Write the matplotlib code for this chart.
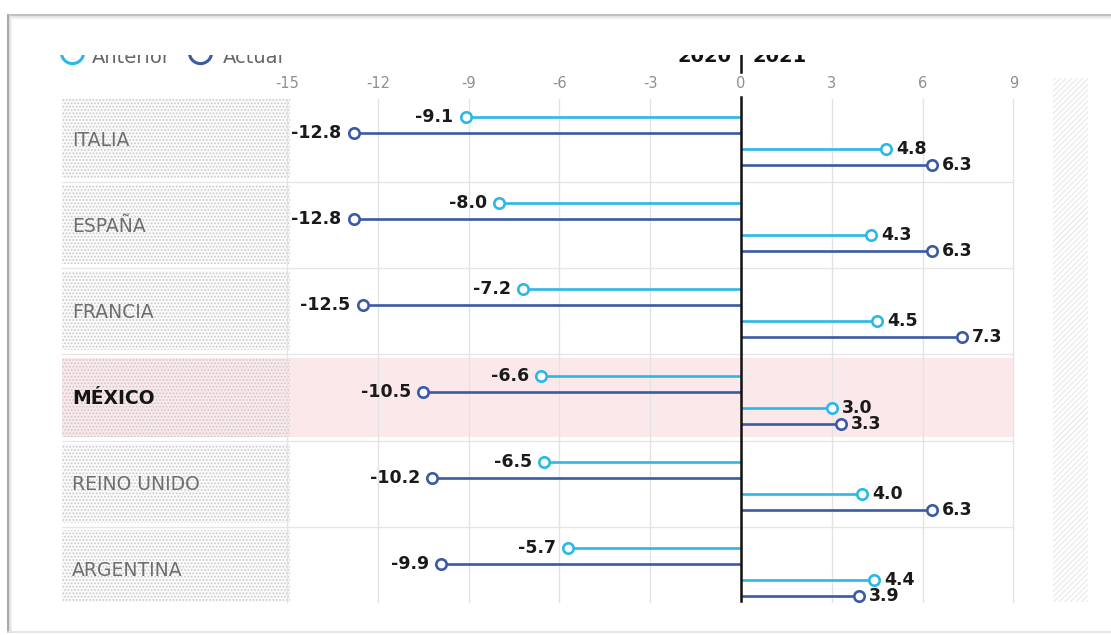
import matplotlib
matplotlib.use('Agg')
import matplotlib.pyplot as plt
from matplotlib.patches import Rectangle

# ---------------- data ----------------
countries = ['ITALIA', 'ESPAÑA', 'FRANCIA', 'MÉXICO', 'REINO UNIDO', 'ARGENTINA']
anterior_2020 = [-9.1, -8.0, -7.2, -6.6, -6.5, -5.7]
actual_2020 = [-12.8, -12.8, -12.5, -10.5, -10.2, -9.9]
anterior_2021 = [4.8, 4.3, 4.5, 3.0, 4.0, 4.4]
actual_2021 = [6.3, 6.3, 7.3, 3.3, 6.3, 3.9]
x_ticks = [-15, -12, -9, -6, -3, 0, 3, 6, 9]
highlight = 'MÉXICO'
legend_labels = ['Anterior', 'Actual']
year_labels = ['2020', '2021']

# ---------------- layout ----------------
W, H = 1111, 635
X0, PXU = 741, 30.27          # pixel of value 0, pixels per unit


def v(px):
    return (px - X0) / PXU


LIGHT = '#2bb8e6'
DARK = '#3a5aa5'
ROW0, PITCH = 117, 86.2
OFF = [0, 16, 32, 48]
BOTTOM = 602
CLIP_Y = 55

plt.rcParams['hatch.linewidth'] = 0.8

fig = plt.figure(figsize=(W / 100, H / 100), dpi=100)
fig.patch.set_facecolor('white')
ax = fig.add_axes([0, 0, 1, 1])
ax.set_xlim(v(0), v(W))
ax.set_ylim(H, 0)
ax.axis('off')

# outer frame / shadow
ax.plot([v(8), v(W)], [15, 15], color='#b5b5b5', lw=1.2, solid_capstyle='butt', zorder=20)
ax.plot([v(8), v(W)], [16.6, 16.6], color='#dcdcdc', lw=1.2, zorder=20)
ax.plot([v(8), v(W)], [18.2, 18.2], color='#efefef', lw=1.2, zorder=20)
ax.plot([v(8), v(8)], [15, 632], color='#a8a8a8', lw=1.4, zorder=20)
ax.plot([v(9.8), v(9.8)], [16, 632], color='#d6d6d6', lw=1.2, zorder=20)
ax.plot([v(11.5), v(11.5)], [17, 632], color='#eeeeee', lw=1.2, zorder=20)
ax.plot([v(8), v(W)], [632, 632], color='#e2e2e2', lw=1.2, zorder=20)

# right hatched band
ax.add_patch(Rectangle((v(1053), 78), v(1088) - v(1053), BOTTOM - 78,
                       facecolor='white', edgecolor='#e8e8e8', hatch='//////',
                       lw=0, zorder=0.5))

# rows
for i, c in enumerate(countries):
    base = ROW0 + PITCH * i
    top = base - 18
    bot = min(base + 61, BOTTOM)
    if c == highlight:
        ax.add_patch(Rectangle((v(62), top), 9 - v(62), bot - top,
                               facecolor='#fbe8ea', lw=0, zorder=0.6))
        pfc = '#fbe8ea'
    else:
        pfc = '#fafafa'
    ax.add_patch(Rectangle((v(62), top), v(290) - v(62), bot - top,
                           facecolor=pfc, edgecolor='#c9c9c9', hatch='.....',
                           lw=0, zorder=1))
    if i < len(countries) - 1:
        ax.plot([v(62), 9], [base + 65, base + 65], color='#e6e6e6', lw=1, zorder=1.2)
    if c == highlight:
        ax.text(v(72), base + 23, c, ha='left', va='center', fontsize=13.5,
                fontweight='bold', color='#151515', zorder=6)
    else:
        ax.text(v(72), base + 23, c, ha='left', va='center', fontsize=13.5,
                color='#6e6e6e', zorder=6)

# grid + tick labels
for t in x_ticks:
    ax.plot([t, t], [99, BOTTOM], color='#e3e3e3', lw=1, zorder=1.5)
    ax.text(t, 83, f'{t}', ha='center', va='center', fontsize=10.5, color='#8f8f8f')

# lollipops
series = [(anterior_2020, LIGHT, 0), (actual_2020, DARK, 1),
          (anterior_2021, LIGHT, 2), (actual_2021, DARK, 3)]
for vals, col, k in series:
    ys = [ROW0 + PITCH * i + OFF[k] for i in range(len(vals))]
    ax.hlines(ys, 0, vals, color=col, lw=1.9, zorder=3)
    ax.plot(vals, ys, 'o', mfc='white', mec=col, ms=7.5, mew=1.9, zorder=4)
    for val, y in zip(vals, ys):
        if val < 0:
            ax.annotate(f'{val:.1f}', (val, y), xytext=(-12, 0), textcoords='offset pixels',
                        ha='right', va='center', fontsize=12.5, fontweight='bold',
                        color='#1a1a1a', zorder=6)
        else:
            ax.annotate(f'{val:.1f}', (val, y), xytext=(10, 0), textcoords='offset pixels',
                        ha='left', va='center', fontsize=12.5, fontweight='bold',
                        color='#1a1a1a', zorder=6)

# zero line
ax.plot([0, 0], [97, 601], color='#111111', lw=1.8, zorder=5)
ax.plot([0, 0], [50, 72], color='#111111', lw=1.8, zorder=5)

# year labels (top cropped by the mask below)
ax.text(v(732), 62, year_labels[0], ha='right', va='baseline', fontsize=14,
        fontweight='bold', color='#111111', zorder=6)
ax.text(v(753), 62, year_labels[1], ha='left', va='baseline', fontsize=14,
        fontweight='bold', color='#111111', zorder=6)

# legend (top cropped by the mask below)
leg_items = [(LIGHT, v(72), v(92)), (DARK, v(200), v(223))]
for (col, cx, tx), lab in zip(leg_items, legend_labels):
    ax.plot([cx], [52], 'o', mfc='white', mec=col, ms=16, mew=2.2, zorder=6)
    ax.text(tx, 63, lab, ha='left', va='baseline', fontsize=14, color='#666666', zorder=6)

# white mask reproducing the cropped top of the original screenshot
ax.add_patch(Rectangle((v(12), 19), v(W) - v(12), CLIP_Y - 19,
                       facecolor='white', edgecolor='none', lw=0, zorder=15))

fig.savefig('out.png', dpi=100, facecolor='white')
